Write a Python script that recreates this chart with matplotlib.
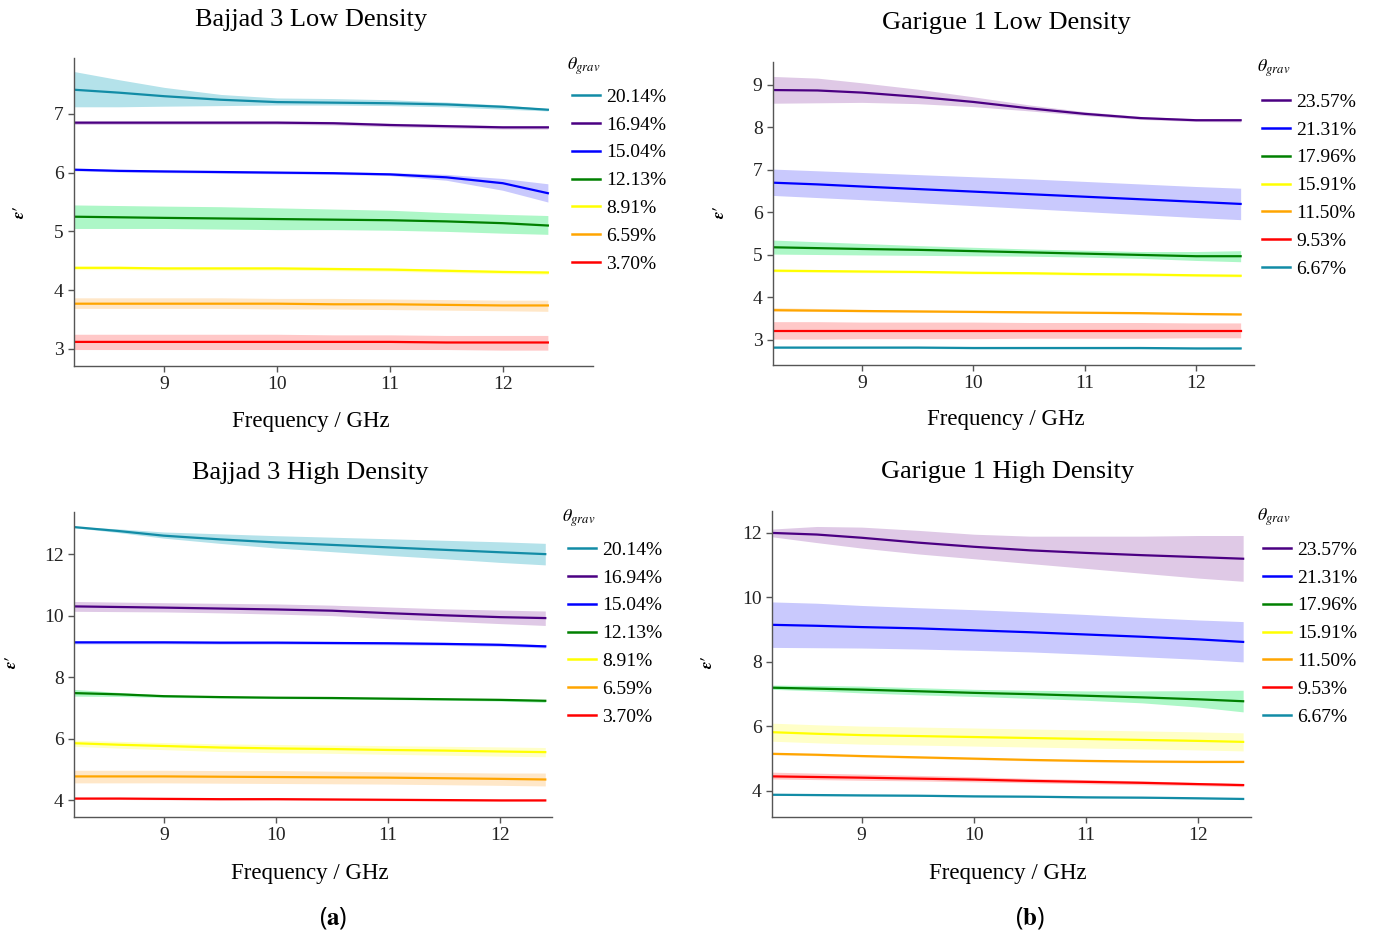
import matplotlib
matplotlib.use("Agg")
import matplotlib.pyplot as plt

plt.rcParams['font.family'] = ['Liberation Serif', 'DejaVu Serif']
plt.rcParams['mathtext.fontset'] = 'stix'

freq = [8.2, 8.6, 9.0, 9.5, 10.0, 10.5, 11.0, 11.5, 12.0, 12.4]

# Bajjad 3 soil
b3_labels = ["20.14%", "16.94%", "15.04%", "12.13%", "8.91%", "6.59%", "3.70%"]
b3_colors = ["#128ca6", "#4b0082", "#0000ff", "#008000", "#ffff00", "#ffa500", "#ff0000"]
b3_bands = ["#b4e2ea", "#dfc9e6", "#c9c9fd", "#adf7c7", "#ffffc8", "#ffe7c8", "#ffc8c8"]

b3_low_mean = [
    [7.41, 7.36, 7.30, 7.24, 7.20, 7.19, 7.18, 7.16, 7.12, 7.07],
    [6.85, 6.85, 6.85, 6.85, 6.85, 6.84, 6.81, 6.79, 6.77, 6.77],
    [6.05, 6.03, 6.02, 6.01, 6.00, 5.99, 5.97, 5.92, 5.82, 5.65],
    [5.25, 5.24, 5.23, 5.22, 5.21, 5.20, 5.19, 5.17, 5.14, 5.10],
    [4.38, 4.38, 4.37, 4.37, 4.37, 4.36, 4.35, 4.33, 4.31, 4.30],
    [3.77, 3.77, 3.77, 3.77, 3.77, 3.76, 3.76, 3.75, 3.74, 3.74],
    [3.12, 3.12, 3.12, 3.12, 3.12, 3.12, 3.12, 3.11, 3.11, 3.11],
]
b3_low_hi = [
    [7.72, 7.58, 7.45, 7.33, 7.27, 7.26, 7.24, 7.20, 7.15, 7.09],
    [6.88, 6.88, 6.88, 6.88, 6.88, 6.87, 6.84, 6.82, 6.80, 6.80],
    [6.07, 6.05, 6.04, 6.03, 6.02, 6.01, 6.00, 5.97, 5.90, 5.81],
    [5.45, 5.44, 5.43, 5.42, 5.40, 5.38, 5.36, 5.32, 5.29, 5.27],
    [4.41, 4.41, 4.40, 4.40, 4.40, 4.39, 4.38, 4.36, 4.34, 4.33],
    [3.87, 3.87, 3.87, 3.87, 3.86, 3.86, 3.85, 3.84, 3.83, 3.83],
    [3.25, 3.25, 3.25, 3.25, 3.25, 3.24, 3.24, 3.23, 3.23, 3.23],
]
b3_low_lo = [
    [7.12, 7.12, 7.13, 7.14, 7.15, 7.15, 7.14, 7.12, 7.08, 7.05],
    [6.82, 6.82, 6.82, 6.82, 6.82, 6.81, 6.78, 6.76, 6.74, 6.74],
    [6.03, 6.01, 6.00, 5.99, 5.98, 5.97, 5.95, 5.87, 5.70, 5.50],
    [5.05, 5.05, 5.05, 5.04, 5.03, 5.03, 5.02, 5.00, 4.97, 4.95],
    [4.35, 4.35, 4.34, 4.34, 4.34, 4.33, 4.32, 4.30, 4.28, 4.27],
    [3.69, 3.69, 3.69, 3.69, 3.68, 3.68, 3.67, 3.66, 3.65, 3.64],
    [2.99, 2.99, 2.99, 2.99, 2.99, 2.99, 2.99, 2.99, 2.98, 2.98],
]

b3_high_mean = [
    [12.88, 12.75, 12.60, 12.48, 12.38, 12.30, 12.22, 12.14, 12.06, 12.00],
    [10.30, 10.28, 10.26, 10.23, 10.20, 10.16, 10.08, 10.01, 9.95, 9.92],
    [9.13, 9.13, 9.13, 9.12, 9.12, 9.11, 9.10, 9.08, 9.05, 9.00],
    [7.48, 7.44, 7.38, 7.35, 7.33, 7.32, 7.30, 7.28, 7.26, 7.23],
    [5.85, 5.80, 5.76, 5.71, 5.68, 5.66, 5.63, 5.61, 5.58, 5.56],
    [4.77, 4.77, 4.77, 4.76, 4.75, 4.74, 4.73, 4.71, 4.69, 4.67],
    [4.05, 4.05, 4.04, 4.03, 4.03, 4.02, 4.01, 4.00, 3.99, 3.99],
]
b3_high_hi = [
    [12.90, 12.82, 12.72, 12.66, 12.60, 12.55, 12.50, 12.45, 12.40, 12.35],
    [10.46, 10.44, 10.42, 10.40, 10.38, 10.34, 10.28, 10.22, 10.18, 10.15],
    [9.18, 9.18, 9.18, 9.17, 9.17, 9.16, 9.15, 9.13, 9.10, 9.05],
    [7.60, 7.50, 7.42, 7.38, 7.36, 7.35, 7.33, 7.31, 7.29, 7.27],
    [5.95, 5.91, 5.87, 5.83, 5.81, 5.79, 5.77, 5.75, 5.73, 5.71],
    [4.97, 4.97, 4.97, 4.96, 4.96, 4.94, 4.92, 4.90, 4.88, 4.88],
    [4.08, 4.08, 4.07, 4.06, 4.06, 4.05, 4.04, 4.03, 4.02, 4.02],
]
b3_high_lo = [
    [12.86, 12.70, 12.52, 12.35, 12.20, 12.08, 11.96, 11.85, 11.73, 11.65],
    [10.14, 10.13, 10.12, 10.09, 10.05, 10.00, 9.90, 9.82, 9.74, 9.68],
    [9.08, 9.08, 9.08, 9.07, 9.07, 9.06, 9.05, 9.03, 9.00, 8.95],
    [7.38, 7.37, 7.34, 7.32, 7.30, 7.29, 7.27, 7.25, 7.22, 7.18],
    [5.75, 5.69, 5.64, 5.58, 5.54, 5.52, 5.49, 5.46, 5.43, 5.41],
    [4.56, 4.56, 4.56, 4.55, 4.54, 4.53, 4.52, 4.50, 4.48, 4.46],
    [4.02, 4.02, 4.01, 4.00, 4.00, 3.99, 3.98, 3.97, 3.96, 3.96],
]

# Garigue 1 soil
g1_labels = ["23.57%", "21.31%", "17.96%", "15.91%", "11.50%", "9.53%", "6.67%"]
g1_colors = ["#4b0082", "#0000ff", "#008000", "#ffff00", "#ffa500", "#ff0000", "#128ca6"]
g1_bands = ["#dfc9e6", "#c9c9fd", "#adf7c7", "#ffffc8", "#ffe7c8", "#ffc8c8", "#b4e2ea"]

g1_low_mean = [
    [8.88, 8.87, 8.82, 8.72, 8.60, 8.45, 8.32, 8.22, 8.17, 8.17],
    [6.70, 6.66, 6.61, 6.55, 6.49, 6.43, 6.37, 6.31, 6.25, 6.20],
    [5.18, 5.16, 5.14, 5.12, 5.09, 5.06, 5.03, 5.00, 4.97, 4.97],
    [4.63, 4.62, 4.61, 4.60, 4.58, 4.57, 4.55, 4.54, 4.52, 4.51],
    [3.70, 3.69, 3.68, 3.67, 3.66, 3.65, 3.64, 3.63, 3.61, 3.60],
    [3.22, 3.22, 3.22, 3.22, 3.22, 3.22, 3.22, 3.22, 3.22, 3.22],
    [2.82, 2.82, 2.82, 2.82, 2.81, 2.81, 2.81, 2.81, 2.80, 2.80],
]
g1_low_hi = [
    [9.20, 9.16, 9.05, 8.90, 8.72, 8.53, 8.37, 8.26, 8.20, 8.19],
    [7.02, 6.98, 6.94, 6.89, 6.84, 6.79, 6.73, 6.67, 6.61, 6.57],
    [5.35, 5.31, 5.27, 5.22, 5.18, 5.14, 5.11, 5.08, 5.08, 5.10],
    [4.66, 4.65, 4.64, 4.63, 4.61, 4.60, 4.58, 4.57, 4.55, 4.54],
    [3.76, 3.74, 3.72, 3.70, 3.69, 3.67, 3.66, 3.65, 3.63, 3.62],
    [3.43, 3.43, 3.42, 3.42, 3.42, 3.41, 3.41, 3.41, 3.40, 3.40],
    [2.84, 2.84, 2.84, 2.84, 2.83, 2.83, 2.83, 2.83, 2.82, 2.82],
]
g1_low_lo = [
    [8.57, 8.58, 8.59, 8.56, 8.49, 8.39, 8.28, 8.19, 8.14, 8.13],
    [6.40, 6.35, 6.30, 6.23, 6.16, 6.09, 6.02, 5.95, 5.88, 5.83],
    [5.02, 5.01, 5.00, 4.99, 4.98, 4.97, 4.95, 4.92, 4.87, 4.84],
    [4.60, 4.59, 4.58, 4.57, 4.55, 4.54, 4.52, 4.51, 4.49, 4.48],
    [3.68, 3.67, 3.66, 3.65, 3.64, 3.63, 3.62, 3.61, 3.59, 3.58],
    [3.02, 3.02, 3.03, 3.03, 3.03, 3.04, 3.04, 3.04, 3.05, 3.05],
    [2.80, 2.80, 2.80, 2.80, 2.79, 2.79, 2.79, 2.79, 2.78, 2.78],
]

g1_high_mean = [
    [12.00, 11.95, 11.85, 11.70, 11.57, 11.46, 11.38, 11.31, 11.25, 11.20],
    [9.15, 9.12, 9.08, 9.04, 8.98, 8.92, 8.85, 8.78, 8.70, 8.62],
    [7.20, 7.17, 7.14, 7.09, 7.04, 7.00, 6.95, 6.90, 6.84, 6.78],
    [5.82, 5.77, 5.73, 5.70, 5.67, 5.64, 5.61, 5.58, 5.55, 5.52],
    [5.15, 5.12, 5.08, 5.04, 5.00, 4.96, 4.93, 4.91, 4.90, 4.90],
    [4.45, 4.43, 4.41, 4.38, 4.35, 4.31, 4.28, 4.25, 4.21, 4.18],
    [3.88, 3.87, 3.86, 3.85, 3.83, 3.82, 3.80, 3.79, 3.77, 3.75],
]
g1_high_hi = [
    [12.12, 12.20, 12.18, 12.08, 11.96, 11.90, 11.90, 11.90, 11.92, 11.92],
    [9.86, 9.82, 9.75, 9.68, 9.62, 9.55, 9.47, 9.38, 9.30, 9.25],
    [7.28, 7.27, 7.25, 7.20, 7.15, 7.12, 7.10, 7.10, 7.11, 7.12],
    [6.10, 6.05, 6.01, 5.98, 5.95, 5.92, 5.89, 5.86, 5.83, 5.80],
    [5.18, 5.15, 5.11, 5.07, 5.03, 4.99, 4.96, 4.94, 4.93, 4.93],
    [4.58, 4.55, 4.52, 4.48, 4.44, 4.39, 4.35, 4.31, 4.26, 4.23],
    [3.90, 3.89, 3.88, 3.87, 3.85, 3.84, 3.82, 3.81, 3.79, 3.77],
]
g1_high_lo = [
    [11.88, 11.70, 11.53, 11.35, 11.20, 11.05, 10.90, 10.75, 10.60, 10.50],
    [8.45, 8.44, 8.43, 8.40, 8.36, 8.31, 8.24, 8.16, 8.08, 8.00],
    [7.15, 7.10, 7.04, 6.98, 6.93, 6.87, 6.81, 6.73, 6.60, 6.45],
    [5.54, 5.49, 5.45, 5.42, 5.39, 5.36, 5.33, 5.30, 5.27, 5.24],
    [5.12, 5.09, 5.05, 5.01, 4.97, 4.93, 4.90, 4.88, 4.87, 4.87],
    [4.37, 4.35, 4.33, 4.31, 4.28, 4.25, 4.22, 4.19, 4.16, 4.13],
    [3.86, 3.85, 3.84, 3.83, 3.81, 3.80, 3.78, 3.77, 3.75, 3.73],
]

titles = ["Bajjad 3 Low Density", "Garigue 1 Low Density",
          "Bajjad 3 High Density", "Garigue 1 High Density"]

W, H = 1376, 939


def fx(px):
    return px / W


def fy(py):
    return 1 - py / H


def DrawPanel(fig, rect, mean, hi, lo, labels, colors, bands, xlim, ylim, yticks,
              title, title_xy, xlabel_xy, ylabel_xy, legtitle_xy, legend_xy):
    left, top, right, bottom = rect
    ax = fig.add_axes([fx(left), fy(bottom), fx(right) - fx(left), fy(top) - fy(bottom)])
    for m, h, l, lab, c, b in zip(mean, hi, lo, labels, colors, bands):
        ax.fill_between(freq, l, h, color=b, lw=0, zorder=1)
        ax.plot(freq, m, color=c, lw=1.6, label=lab, zorder=2)
    ax.set_xlim(*xlim)
    ax.set_ylim(*ylim)
    ax.set_xticks([9, 10, 11, 12])
    ax.set_yticks(yticks)
    for s in ["top", "right"]:
        ax.spines[s].set_visible(False)
    for s in ["left", "bottom"]:
        ax.spines[s].set_color("#555555")
        ax.spines[s].set_linewidth(1.0)
    ax.tick_params(colors="#555555", labelcolor="#222222", labelsize=14, length=4, width=1)
    fig.text(fx(title_xy[0]), fy(title_xy[1]), title, fontsize=19, ha="center", va="center")
    fig.text(fx(xlabel_xy[0]), fy(xlabel_xy[1]), "Frequency / GHz", fontsize=16.5,
             ha="center", va="center")
    fig.text(fx(ylabel_xy[0]), fy(ylabel_xy[1]), r"$\boldsymbol{\epsilon\prime}$", fontsize=12,
             ha="center", va="center", rotation=90)
    fig.text(fx(legtitle_xy[0]), fy(legtitle_xy[1]), r"$\theta_{grav}$", fontsize=13,
             ha="left", va="center")
    leg = ax.legend(loc="upper left", bbox_to_anchor=(fx(legend_xy[0]), fy(legend_xy[1] - 7)),
                    bbox_transform=fig.transFigure, frameon=False, fontsize=14,
                    handlelength=1.45, handletextpad=0.3, labelspacing=0.53,
                    borderaxespad=0, borderpad=0)
    for line in leg.get_lines():
        line.set_linewidth(1.8)
    return ax


fig = plt.figure(figsize=(13.76, 9.39), dpi=100)

DrawPanel(fig, (74, 58, 593, 366), b3_low_mean, b3_low_hi, b3_low_lo,
          b3_labels, b3_colors, b3_bands, (8.2, 12.8), (2.71, 7.95), [3, 4, 5, 6, 7],
          titles[0], (311, 20), (311, 421), (20, 212), (567, 66), (572, 95))
DrawPanel(fig, (773, 62, 1254, 365), g1_low_mean, g1_low_hi, g1_low_lo,
          g1_labels, g1_colors, g1_bands, (8.2, 12.52), (2.41, 9.54), [3, 4, 5, 6, 7, 8, 9],
          titles[1], (1006, 23), (1006, 419), (720, 212), (1257, 68), (1262, 100))
DrawPanel(fig, (74, 512, 552, 817), b3_high_mean, b3_high_hi, b3_high_lo,
          b3_labels, b3_colors, b3_bands, (8.2, 12.46), (3.45, 13.37), [4, 6, 8, 10, 12],
          titles[2], (310, 473), (310, 873), (12, 662), (562, 518), (568, 548))
DrawPanel(fig, (772, 511, 1251, 817), g1_high_mean, g1_high_hi, g1_high_lo,
          g1_labels, g1_colors, g1_bands, (8.2, 12.47), (3.19, 12.68), [4, 6, 8, 10, 12],
          titles[3], (1008, 472), (1008, 873), (708, 662), (1257, 517), (1263, 548))

fig.text(fx(333), fy(918), r"($\mathbf{a}$)", fontsize=18, ha="center", va="center",
         family=["Open Sans", "DejaVu Sans"])
fig.text(fx(1030), fy(918), r"($\mathbf{b}$)", fontsize=18, ha="center", va="center",
         family=["Open Sans", "DejaVu Sans"])

fig.savefig("out.png", dpi=100)
